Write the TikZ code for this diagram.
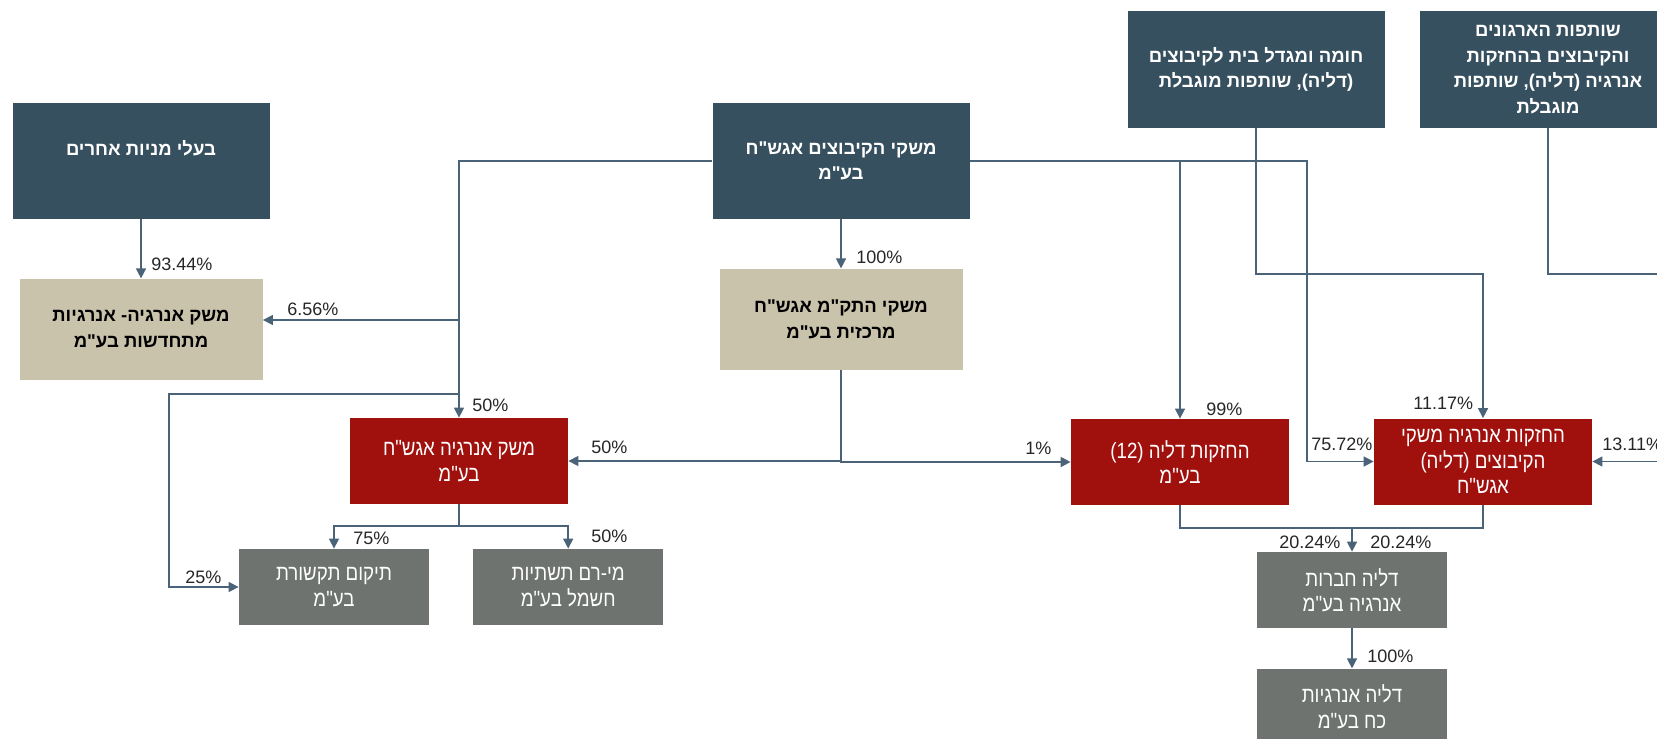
\documentclass[tikz,border=0pt]{standalone}
\usepackage{fontspec}
\setmainfont{Liberation Sans}
\newfontfamily\hebbold[Script=Hebrew]{Liberation Sans}
\newfontfamily\hebnarrow[Script=Hebrew,FakeStretch=0.85]{Liberation Sans}
\TeXXeTstate=1
\usepackage{xcolor}
\usepackage{tikz}
\usetikzlibrary{arrows.meta,positioning}

\definecolor{ownerblue}{HTML}{36505F}
\definecolor{holdtan}{HTML}{CAC3AB}
\definecolor{firmred}{HTML}{A0100C}
\definecolor{subgrey}{HTML}{6E7370}
\definecolor{wire}{HTML}{4A6378}
\definecolor{pcttext}{HTML}{262626}

\newcommand{\heb}[1]{\beginR #1\endR}

\begin{document}
\begin{tikzpicture}[
    x=0.5pt, y=-0.5pt,
    owner/.style={rectangle, fill=ownerblue, text=white, align=center, inner sep=0pt, minimum width=128.5pt, minimum height=58pt, font=\hebbold\bfseries\fontsize{9.25}{12.75}\selectfont},
    holding/.style={rectangle, fill=holdtan, text=black, align=center, inner sep=0pt, minimum width=121.5pt, minimum height=50.5pt, font=\hebbold\bfseries\fontsize{9.25}{12.75}\selectfont},
    firm/.style={rectangle, fill=firmred, text=white, align=center, inner sep=0pt, minimum width=109pt, minimum height=43pt, font=\hebnarrow\fontsize{11}{12.75}\selectfont},
    sub/.style={rectangle, fill=subgrey, text=white, align=center, inner sep=0pt, minimum width=95pt, minimum height=38pt, font=\hebnarrow\fontsize{11}{12.75}\selectfont},
    pct/.style={anchor=west, inner sep=0pt, text=pcttext, font=\fontsize{9}{10}\selectfont},
    link/.style={draw=wire, line width=0.75pt},
    arrow/.style={link, -{Triangle[length=5pt, width=5pt]}}
]
    \useasboundingbox (0,0) rectangle (1657,738);

    % Owners
    \node[owner] (others) at (141,161) {\heb{בעלי מניות אחרים}\\~};
    \node[owner] (kibbutz) at (841,161) {\heb{משקי הקיבוצים אגש"ח}\\\heb{בע"מ}};
    \node[owner] (homa) at (1256,69.5) {\heb{חומה ומגדל בית לקיבוצים}\\\heb{(דליה), שותפות מוגבלת}};
    \node[owner] (partners) at (1548,69.5) {\heb{שותפות הארגונים}\\\heb{והקיבוצים בהחזקות}\\\heb{אנרגיה (דליה), שותפות}\\\heb{מוגבלת}};

    % Holding layer
    \node[holding, below=29.5pt of others] (renew) {\heb{משק אנרגיה- אנרגיות}\\\heb{מתחדשות בע"מ}};
    \node[holding, below=24.5pt of kibbutz] (central) {\heb{משקי התק"מ אגש"ח}\\\heb{מרכזית בע"מ}};

    % Energy companies
    \node[firm] (energy) at (459,461) {\heb{משק אנרגיה אגש"ח}\\\heb{בע"מ}};
    \node[firm] (dalia12) at (1180,462) {\heb{החזקות דליה (12)}\\\heb{בע"מ}};
    \node[firm] (dalhold) at (1483,461.5) {\heb{החזקות אנרגיה משקי}\\\heb{הקיבוצים (דליה)}\\\heb{אגש"ח}};

    % Subsidiaries
    \node[sub] (tikum) at (334,587) {\heb{תיקום תקשורת}\\\heb{בע"מ}};
    \node[sub, right=21.7pt of tikum] (mirom) {\heb{מי-רם תשתיות}\\\heb{חשמל בע"מ}};
    \node[sub] (daliaco) at (1352,590) {\heb{דליה חברות}\\\heb{אנרגיה בע"מ}};
    \node[sub, below=20pt of daliaco] (daliapow) {\heb{דליה אנרגיות}\\\heb{כח בע"מ}};

    % Junctions
    \coordinate (jrenew) at (458,320);
    \coordinate (jtikum) at (458,394);
    \coordinate (kright) at (1307,161);
    \coordinate (hbend) at (1483,274);
    \coordinate (pbend) at (1690,274);
    \coordinate (ebelow) at (459,526);
    \coordinate (dbelow) at (1181,528);

    % Arrows
    \draw[arrow] (others) -- (renew);
    \draw[arrow] (kibbutz) -- (central);
    \draw[arrow] (kibbutz.west) -| (energy.north);
    \draw[arrow] (jrenew) -- (jrenew -| renew.east);
    \draw[arrow] (jtikum) -- ++(-289,0) |- (tikum.west);
    \draw[arrow] (kibbutz.east) -- (kright) |- (dalhold.west);
    \draw[arrow] (dalia12.north |- kibbutz.east) -- (dalia12.north);
    \draw[arrow] (homa.south) |- (hbend) -- (dalhold.north);
    \draw[arrow] (partners.south) |- (pbend) |- (dalhold.east);
    \draw[arrow] (central.south) |- (energy.east);
    \draw[arrow] (central.south) |- (dalia12.west);
    \draw[link] (energy.south) -- (ebelow);
    \draw[arrow] (ebelow) -| (tikum.north);
    \draw[arrow] (ebelow) -| (mirom.north);
    \draw[link] (dalia12.south) |- (dbelow) -| (dalhold.south);
    \draw[arrow] (daliaco.north |- dbelow) -- (daliaco.north);
    \draw[arrow] (daliaco) -- (daliapow);

    % Shares
    \node[pct] (p9344) at (151,264) {93.44\%};
    \node[pct] (p656) at (287,309) {6.56\%};
    \node[pct] (p100a) at (856,257) {100\%};
    \node[pct] (p50a) at (472,405) {50\%};
    \node[pct] (p50b) at (591,447) {50\%};
    \node[pct] (p75) at (353,538) {75\%};
    \node[pct] (p50c) at (591,536) {50\%};
    \node[pct] (p25) at (185,577) {25\%};
    \node[pct] (p1) at (1025,448) {1\%};
    \node[pct] (p99) at (1206,409) {99\%};
    \node[pct] (p1117) at (1413,403) {11.17\%};
    \node[pct] (p7572) at (1311,444) {75.72\%};
    \node[pct] (p1311) at (1602,444) {13.11\%};
    \node[pct] (p2024a) at (1279,542) {20.24\%};
    \node[pct] (p2024b) at (1370,542) {20.24\%};
    \node[pct] (p100b) at (1367,656) {100\%};
\end{tikzpicture}
\end{document}
